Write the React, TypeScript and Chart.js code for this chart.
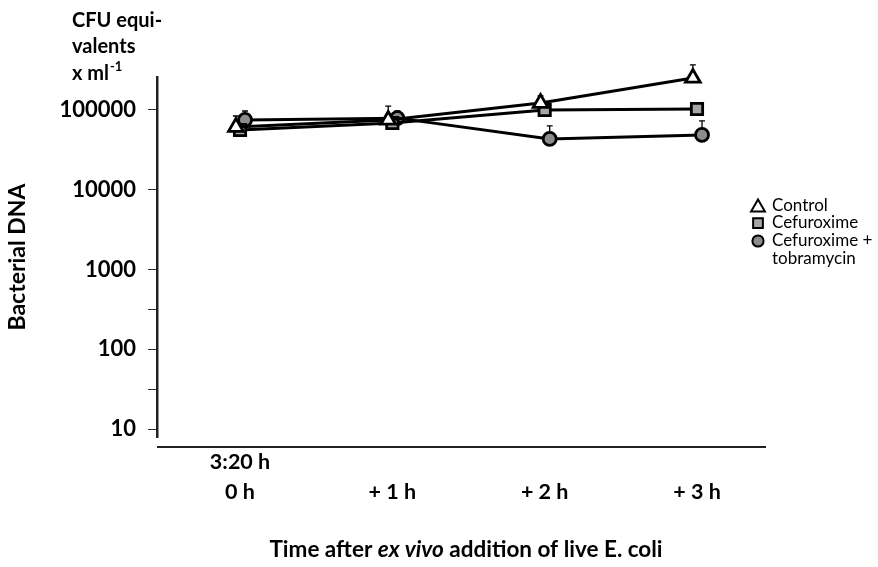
import React, { useEffect, useRef } from 'react';
import { Chart, registerables } from 'chart.js';

Chart.register(...registerables);

// ---- data ----
const categories = ['0 h', '+ 1 h', '+ 2 h', '+ 3 h'];
const categoryTopLine = ['3:20 h', '', '', ''];
const seriesNames = ['Control', 'Cefuroxime', 'Cefuroxime + tobramycin'];
const legendLines = [['Control'], ['Cefuroxime'], ['Cefuroxime +', 'tobramycin']];
const controlValues = [61000, 75000, 122000, 252000];
const controlErrTop = [84000, 112000, 150000, 368000];
const cefuroximeValues = [56000, 68700, 100000, 103000];
const cefuroximeErrTop = [null, null, null, 119000];
const comboValues = [75000, 79000, 43300, 48600];
const comboErrTop = [97000, 97000, 63000, 73000];
const yMajorTicks = [10, 100, 1000, 10000, 100000];
const yMinorTicks = [31.6, 316];

const Y_MIN = 7.94;
const Y_MAX = 259000;
const X_MIN = -0.545;
const X_MAX = 3.453;
const FONT = 'Lato, "Open Sans", sans-serif';

function makeDataset(label, values, errTop, offset, style) {
  return {
    type: 'line',
    label,
    data: values.map((v, i) => ({ x: i + offset, y: v })),
    errTop,
    borderColor: '#000',
    borderWidth: 3,
    tension: 0,
    clip: false,
    pointStyle: style.pointStyle,
    pointRadius: style.radius,
    pointBackgroundColor: style.fill,
    pointBorderColor: '#000',
    pointBorderWidth: 2.8,
  };
}

const errorBarPlugin = {
  id: 'errorBars',
  beforeDatasetsDraw(chart) {
    const ctx = chart.ctx;
    const ys = chart.scales.y;
    chart.data.datasets.forEach((ds, di) => {
      const meta = chart.getDatasetMeta(di);
      (ds.errTop || []).forEach((top, i) => {
        if (top == null) return;
        const pt = meta.data[i];
        const yTop = ys.getPixelForValue(top);
        ctx.save();
        ctx.strokeStyle = '#000';
        ctx.lineWidth = 1.3;
        ctx.beginPath();
        ctx.moveTo(pt.x, pt.y);
        ctx.lineTo(pt.x, yTop);
        ctx.moveTo(pt.x - 3, yTop);
        ctx.lineTo(pt.x + 3, yTop);
        ctx.stroke();
        ctx.restore();
      });
    });
  },
};

function drawMarker(ctx, style, fill, x, y, r) {
  ctx.save();
  ctx.fillStyle = fill;
  ctx.strokeStyle = '#000';
  ctx.lineWidth = 2;
  ctx.beginPath();
  if (style === 'triangle') {
    ctx.moveTo(x, y - r);
    ctx.lineTo(x + r * 0.866, y + r * 0.5);
    ctx.lineTo(x - r * 0.866, y + r * 0.5);
    ctx.closePath();
  } else if (style === 'rect') {
    const s = r * 0.75;
    ctx.rect(x - s, y - s, 2 * s, 2 * s);
  } else {
    ctx.arc(x, y, r * 0.8, 0, Math.PI * 2);
  }
  ctx.fill();
  ctx.stroke();
  ctx.restore();
}

const decorPlugin = {
  id: 'decor',
  afterDraw(chart) {
    const ctx = chart.ctx;
    const area = chart.chartArea;
    // x axis line, detached below y axis
    ctx.save();
    ctx.strokeStyle = '#222';
    ctx.lineWidth = 2;
    ctx.beginPath();
    ctx.moveTo(area.left, area.bottom + 10);
    ctx.lineTo(area.right, area.bottom + 10);
    ctx.stroke();
    ctx.restore();

    // unit label top-left
    ctx.save();
    ctx.fillStyle = '#000';
    ctx.textBaseline = 'middle';
    ctx.textAlign = 'left';
    ctx.font = `bold 20px ${FONT}`;
    ctx.fillText('CFU equi-', 72, 21);
    ctx.fillText('valents', 72, 47);
    ctx.fillText('x ml', 72, 74);
    const w = ctx.measureText('x ml').width;
    ctx.font = `bold 13px ${FONT}`;
    ctx.fillText('-1', 72 + w + 1, 67);
    ctx.restore();

    // x axis title with italic part
    const parts = [
      ['Time after ', 'bold'],
      ['ex vivo', 'italic bold'],
      [' addition of live E. coli', 'bold'],
    ];
    ctx.save();
    ctx.fillStyle = '#000';
    ctx.textBaseline = 'middle';
    ctx.textAlign = 'left';
    let total = 0;
    const widths = parts.map(([t, s]) => {
      ctx.font = `${s} 22.5px ${FONT}`;
      const ww = ctx.measureText(t).width;
      total += ww;
      return ww;
    });
    let xx = 466 - total / 2;
    parts.forEach(([t, s], i) => {
      ctx.font = `${s} 22.5px ${FONT}`;
      ctx.fillText(t, xx, 550);
      xx += widths[i];
    });
    ctx.restore();

    // legend
    const lx = 758;
    const rows = [206, 223, 241];
    ctx.save();
    chart.data.datasets.forEach((ds, i) => {
      const sizes = { triangle: 8, rect: 6.5, circle: 7 };
      drawMarker(ctx, ds.pointStyle, ds.pointBackgroundColor, lx, rows[i] + (ds.pointStyle === 'triangle' ? 1.5 : 0), sizes[ds.pointStyle]);
      ctx.fillStyle = '#000';
      ctx.font = `17px ${FONT}`;
      ctx.textBaseline = 'middle';
      ctx.textAlign = 'left';
      legendLines[i].forEach((line, k) => {
        ctx.fillText(line, 772, rows[i] + k * 17.5);
      });
    });
    ctx.restore();
  },
};

export default function App() {
  const canvasRef = useRef(null);

  useEffect(() => {
    const chart = new Chart(canvasRef.current, {
      type: 'line',
      data: {
        datasets: [
          makeDataset(seriesNames[0], controlValues, controlErrTop, -0.027, { pointStyle: 'triangle', radius: 8.5, fill: '#ffffff' }),
          makeDataset(seriesNames[1], cefuroximeValues, cefuroximeErrTop, 0, { pointStyle: 'rect', radius: 8, fill: '#a6a6a6' }),
          makeDataset(seriesNames[2], comboValues, comboErrTop, 0.033, { pointStyle: 'circle', radius: 6.5, fill: '#8c8c8c' }),
        ],
      },
      options: {
        responsive: false,
        animation: false,
        devicePixelRatio: 1,
        font: { family: FONT },
        layout: { padding: { left: 0, top: 77, right: 112, bottom: 0 } },
        plugins: {
          legend: { display: false },
          tooltip: { enabled: false },
        },
        scales: {
          x: {
            type: 'linear',
            min: X_MIN,
            max: X_MAX,
            afterBuildTicks: (s) => {
              s.ticks = categories.map((_, i) => ({ value: i }));
            },
            ticks: {
              autoSkip: false,
              maxRotation: 0,
              minRotation: 0,
              padding: 10,
              color: '#000',
              font: { family: FONT, size: 21.5, weight: 'bold', lineHeight: 1.4 },
              callback: (v) => {
                const i = Math.round(Number(v));
                return [categoryTopLine[i], categories[i]];
              },
            },
            grid: { display: false, drawTicks: false },
            border: { display: false },
            afterFit: (s) => {
              s.height = 130;
            },
          },
          y: {
            type: 'logarithmic',
            min: Y_MIN,
            max: Y_MAX,
            afterBuildTicks: (s) => {
              s.ticks = [...yMinorTicks, ...yMajorTicks].sort((a, b) => a - b).map((v) => ({ value: v }));
            },
            ticks: {
              autoSkip: false,
              padding: 12,
              color: '#000',
              font: { family: FONT, size: 22, weight: 'bold' },
              callback: (v) => (yMajorTicks.includes(Number(v)) ? String(v) : ''),
            },
            grid: { display: true, drawOnChartArea: false, drawTicks: true, tickLength: 9, color: '#333', lineWidth: 1 },
            border: { display: true, color: '#222', width: 2.5 },
            title: {
              display: true,
              text: 'Bacterial DNA',
              color: '#000',
              font: { family: FONT, size: 23, weight: 'bold' },
              padding: { top: 4, bottom: 0 },
            },
            afterFit: (s) => {
              s.width = 157;
            },
          },
        },
      },
      plugins: [errorBarPlugin, decorPlugin],
    });
    return () => chart.destroy();
  }, []);

  return (
    <div style={{ position: 'absolute', left: 0, top: 0, width: 878, height: 567, background: '#fff' }}>
      <canvas ref={canvasRef} width={878} height={567} style={{ display: 'block' }} />
    </div>
  );
}
